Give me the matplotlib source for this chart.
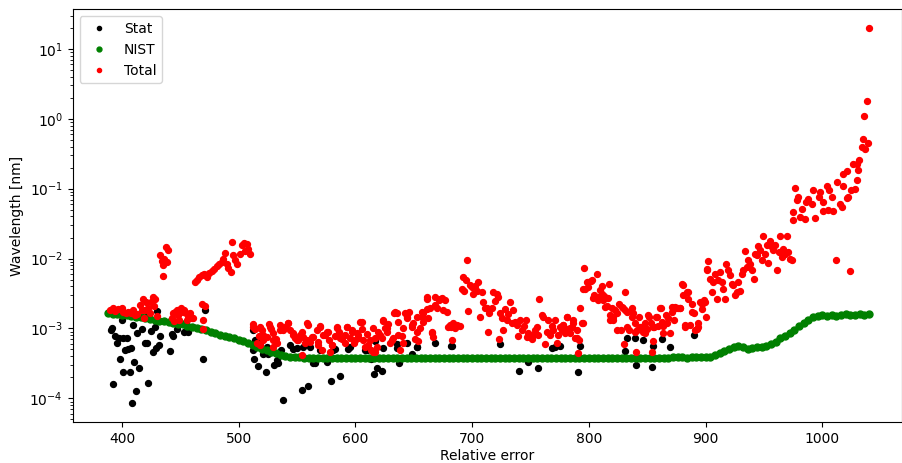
import numpy as np
import matplotlib
matplotlib.use('Agg')
import matplotlib.pyplot as plt

# Stat points (only the ones that show below / beside the red points)
stat_wl = [390.3, 391.8, 394.0, 396.0, 392.6, 399.8, 397.8, 401.2, 404.0, 402.6,
           405.5, 407.5, 398.3, 401.2, 406.9, 409.2, 410.3, 412.0, 408.3, 413.2,
           414.3, 417.5, 419.8, 421.8, 422.6, 424.6, 426.9, 428.3, 429.2, 431.5,
           432.6, 441.2, 442.9, 444.0, 446.9, 453.2, 456.9, 461.2, 469.2, 421.8,
           429.8, 471.2,
           512.0, 514.0, 513.2, 516.9, 518.3, 523.2, 525.5, 530.3, 532.6, 534.0,
           538.3, 554.0, 559.8, 521.1, 536.0, 546.8, 555.4,
           563.4, 565.4, 575.4, 578.8, 586.8, 613.1, 616.0, 618.3, 622.6, 637.7,
           648.3, 652.6, 668.3, 569.7, 582.6, 594.0, 608.3, 616.8, 635.4, 644.0,
           682.0, 724.0, 740.5, 748.2, 756.8, 768.2, 771.1, 775.4, 790.5, 792.5,
           831.1, 832.5, 839.6, 840.5, 846.2, 854.7, 854.5, 862.5, 869.6, 890.2,
           512.5, 524.0, 544.0, 549.7, 561.1, 581.1, 595.4, 609.7, 624.0, 635.4,
           652.5, 682.5]
stat_err = [9.4e-4, 1.03e-3, 7.8e-4, 6.1e-4, 1.58e-4, 1.31e-3, 7.4e-4, 7.2e-4, 7.3e-4, 4.9e-4,
            5.1e-4, 5.3e-4, 3.6e-4, 2.4e-4, 2.4e-4, 1.11e-3, 3.3e-4, 1.26e-4, 8.6e-5, 8.5e-4,
            2.7e-4, 9.7e-4, 6.2e-4, 6.2e-4, 1.64e-4, 9.2e-4, 4.6e-4, 1.05e-3, 5.3e-4, 5.8e-4,
            7.8e-4, 4.8e-4, 8.3e-4, 7.8e-4, 9.7e-4, 9.0e-4, 9.0e-4, 1.05e-3, 3.6e-4, 1.73e-3,
            1.75e-3, 1.82e-3,
            9.4e-4, 6.8e-4, 3.6e-4, 2.9e-4, 6.1e-4, 2.35e-4, 4.3e-4, 3.0e-4, 3.5e-4, 3.2e-4,
            9.4e-5, 1.31e-4, 1.5e-4, 4.3e-4, 4.9e-4, 5.0e-4, 5.5e-4,
            3.2e-4, 3.2e-4, 3.3e-4, 1.79e-4, 2.1e-4, 3.6e-4, 2.2e-4, 2.7e-4, 2.5e-4, 3.2e-4,
            4.3e-4, 5.4e-4, 6.1e-4, 4.9e-4, 5.0e-4, 5.0e-4, 4.9e-4, 6.7e-4, 6.0e-4, 6.1e-4,
            5.6e-4, 6.0e-4, 2.45e-4, 3.3e-4, 2.68e-4, 5.2e-4, 5.5e-4, 5.6e-4, 2.4e-4, 5.6e-4,
            4.8e-4, 7.2e-4, 7.2e-4, 3.0e-4, 6.8e-4, 5.6e-4, 2.83e-4, 6.95e-4, 5.46e-4, 8.0e-4,
            4.9e-4, 5.5e-4, 5.8e-4, 5.2e-4, 5.5e-4, 4.9e-4, 5.5e-4, 4.9e-4, 5.2e-4, 5.2e-4,
            5.5e-4, 5.65e-4]

# NIST uncertainty, sampled every 4 nm (values in units of 1e-4)
nist_wl = np.arange(388, 1041, 4)
nist_err_e4 = [16.4, 16.2, 16.0, 15.7, 15.4, 15.1, 14.8, 14.5, 14.2, 13.8,
               13.3, 12.9, 12.6, 12.3, 12.0, 11.7, 11.4, 11.0, 10.6, 10.2,
               9.8, 9.4, 8.9, 8.5, 8.1, 7.8, 7.5, 7.2, 6.9, 6.6,
               6.2, 5.8, 5.4, 5.1, 4.9, 4.6, 4.4, 4.2, 4.05, 3.95,
               3.9, 3.85, 3.8,
               3.8, 3.78, 3.8, 3.82, 3.8, 3.76, 3.78, 3.8, 3.82, 3.8,
               3.78, 3.76, 3.8, 3.82, 3.8, 3.78, 3.8, 3.82, 3.8, 3.76,
               3.78, 3.8, 3.82, 3.8, 3.78, 3.76, 3.8, 3.82, 3.8, 3.78,
               3.8, 3.82, 3.8, 3.76, 3.78, 3.8, 3.82, 3.8, 3.78, 3.76,
               3.8, 3.82, 3.8, 3.78, 3.8, 3.82, 3.8, 3.76, 3.78, 3.8,
               3.82, 3.8, 3.78, 3.76, 3.8, 3.78, 3.76, 3.74, 3.76, 3.78,
               3.76, 3.74, 3.72, 3.74, 3.76, 3.74, 3.72, 3.74, 3.76, 3.74,
               3.72, 3.74, 3.76, 3.8, 3.82, 3.8, 3.78, 3.8, 3.84, 3.86,
               3.84, 3.82, 3.84, 3.86, 3.88, 3.9,
               3.95, 4.2, 4.5, 4.8, 5.1, 5.35, 5.7, 5.4, 5.0, 5.2,
               5.4, 5.5, 5.7, 6.0, 6.5, 7.2, 7.8, 8.6, 9.6, 10.7,
               12.0, 13.3, 14.5, 15.3, 15.4, 15.2, 15.5, 15.3, 15.6, 15.9,
               15.4, 15.6, 15.9, 15.5, 16.0]
nist_err = np.array(nist_err_e4) * 1e-4

# Total points
total_wl = [389.8, 392.0, 394.0, 396.9, 399.8, 401.2, 403.5, 405.5, 407.5, 409.8,
            411.2, 413.2, 415.5, 417.8, 416.9, 419.8, 420.6, 422.6, 424.6, 426.3,
            428.3, 427.5, 429.8, 424.0, 418.9,
            432.6, 434.0, 435.5, 437.8, 439.8, 438.9, 434.9, 436.0,
            442.6, 444.0, 445.5, 446.9, 448.3, 450.3, 452.0, 453.2, 454.9, 456.9,
            458.3, 459.8, 461.2, 444.9, 449.2, 455.5,
            468.3, 471.2, 469.8, 469.2,
            462.6, 464.6, 466.3, 468.3, 470.3, 472.6, 474.9, 476.9, 478.9, 481.2,
            483.5, 485.5, 486.9, 488.3, 489.7, 491.2, 493.2, 494.9, 496.9, 498.3,
            494.0, 502.6, 504.6, 506.9, 508.3, 509.7, 505.5, 501.2,
            512.0, 514.0, 518.3, 519.7, 517.7, 521.2, 524.0, 526.3, 527.5, 529.7,
            532.0, 535.5, 537.7, 539.7, 542.6, 544.0, 546.3, 548.3, 550.3, 552.6,
            554.9, 556.9, 558.9, 559.8, 529.7, 518.3,
            562.6, 566.8, 568.3, 569.7, 571.1, 574.0, 576.0, 577.7, 579.7, 582.6,
            584.6, 586.3, 588.3, 591.1, 592.6, 595.4, 596.8, 598.8, 601.1, 602.6,
            604.0, 605.4, 606.8, 609.7, 611.1, 613.1, 615.4, 616.8, 618.3, 619.7,
            622.6, 624.0, 625.4, 626.8, 628.3, 629.7, 632.0, 633.1, 635.4, 636.8,
            638.3, 639.7, 641.1, 642.6, 644.0, 646.3, 648.3, 649.7, 651.1, 652.6,
            654.0, 655.4, 656.8, 658.3, 661.1, 662.6, 664.0, 665.4, 666.8, 668.3,
            669.7, 672.0, 674.0, 675.4, 678.3, 679.7, 661.1, 658.3,
            682.0, 683.4, 685.4, 687.4, 689.7, 691.1, 692.0, 693.1, 694.8, 696.0,
            696.8, 698.2, 699.7, 701.1, 702.5, 704.0, 705.4, 706.8, 708.2, 709.7,
            711.1, 712.5, 714.0, 714.8, 716.8, 718.2, 719.7, 721.1, 722.5, 723.4,
            724.0, 725.4, 726.8, 728.2, 729.7, 731.1, 732.5, 734.0, 735.4, 736.8,
            738.2, 739.7, 741.1, 742.5, 744.5, 746.0, 746.8, 748.2, 749.7, 751.1,
            752.5, 754.0, 755.4, 756.5, 757.7, 759.7, 761.1, 762.5, 764.0, 765.4,
            766.8, 768.2, 769.7, 771.1, 772.5, 774.0, 775.4, 776.8, 778.2, 779.7,
            781.1, 782.5, 784.0, 785.4, 786.8, 788.2, 789.7, 791.1, 792.0, 792.5,
            794.0, 794.8, 796.2, 798.2, 799.7, 801.7, 803.4, 804.8, 806.8, 808.2,
            809.7, 811.1, 811.9, 813.1, 815.4, 816.8, 817.7, 818.2, 819.7, 821.1,
            822.5, 824.5, 826.2, 827.4, 829.1, 831.1, 832.5, 834.0,
            836.7, 838.2, 839.6, 840.5, 841.6, 843.3, 844.5, 846.2, 848.2, 849.6,
            851.9, 853.0, 854.7, 855.9, 857.6, 859.6, 861.6, 862.5, 863.9, 866.2,
            868.2, 869.6, 871.0, 873.0, 874.7, 876.7, 878.2, 879.6, 880.5, 882.5,
            883.9, 885.3, 886.7, 888.2, 890.2, 892.5, 893.9, 895.3, 896.7, 898.7,
            900.5, 901.0, 902.5, 903.9, 905.3, 906.7, 908.2, 909.6, 911.0, 912.5,
            913.9, 915.3, 916.7, 917.6, 919.6, 921.0, 922.5, 923.9, 925.3, 926.7,
            928.2, 929.6, 931.0, 932.5, 933.9, 935.3, 936.7, 938.2, 939.6, 941.6,
            942.5, 943.9, 945.3, 946.7, 948.2, 949.6, 951.0, 952.5, 953.9, 955.3,
            956.7, 958.2, 959.6, 961.0, 962.5, 963.9, 965.3, 966.7, 968.2, 969.6,
            971.0, 972.5, 973.9, 1011.9, 1023.9, 853.9, 830.2,
            1039.8, 1038.7, 1035.8, 1035.2, 1039.5, 1033.8, 1036.7, 1031.8, 1030.1, 1026.7,
            1030.9, 1021.0, 1017.5, 1030.1, 1012.4, 1018.1, 1003.8, 1028.1, 1024.4, 1006.1,
            998.1, 992.4, 976.7, 979.5, 988.1, 997.5, 1008.1, 1021.0, 978.1, 986.1,
            991.0, 1001.0, 1015.2, 1016.7, 982.4, 975.2, 1001.0, 1005.2, 1009.5, 980.9,
            985.2, 993.8, 975.2, 1022.4,
            512.5, 518.2, 521.1, 526.8, 529.7, 533.1, 538.2, 542.5, 546.8, 551.1,
            554.0, 558.2, 561.1, 564.0, 569.7, 572.5, 576.8, 579.7, 584.0, 586.8,
            591.1, 592.5, 596.8, 599.7, 602.5, 605.4, 608.2, 612.5, 616.8, 621.1,
            624.0, 626.8, 631.1, 633.9, 636.8, 641.1, 644.0, 648.2, 652.5, 656.8,
            661.1, 665.4, 668.2, 672.5, 676.8, 681.1, 682.5, 515.4, 535.4, 568.2,
            615.4, 578.2, 554.0,
            778.2, 781.0, 783.9, 786.7, 789.6, 795.3, 796.7, 799.6, 802.4, 805.3,
            808.2, 811.0, 813.9, 818.2, 821.0, 823.9, 828.2, 831.0, 832.4, 836.7,
            839.6, 843.9, 848.2, 851.0, 855.3, 858.2, 861.0, 863.9, 866.7, 871.0,
            873.9, 878.2, 880.4, 882.4, 885.3, 888.2, 891.0, 893.9, 896.7, 899.6,
            901.0]
total_err = [1.82e-3, 1.93e-3, 1.77e-3, 1.87e-3, 1.99e-3, 1.73e-3, 1.64e-3, 1.73e-3, 1.67e-3, 1.82e-3,
             1.55e-3, 1.6e-3, 2.15e-3, 2.68e-3, 1.82e-3, 1.82e-3, 2.4e-3, 1.99e-3, 2.4e-3, 2.83e-3,
             2.68e-3, 2.08e-3, 1.5e-3, 1.64e-3, 1.43e-3,
             1.11e-2, 9.2e-3, 8.0e-3, 1.47e-2, 1.34e-2, 8.9e-3, 5.6e-3, 1.0e-2,
             1.39e-3, 1.64e-3, 1.73e-3, 1.82e-3, 1.55e-3, 1.93e-3, 1.73e-3, 1.82e-3, 1.64e-3, 1.5e-3,
             1.67e-3, 1.43e-3, 1.39e-3, 1.28e-3, 1.34e-3, 1.31e-3,
             2.22e-3, 2.08e-3, 1.34e-3, 9.7e-4,
             4.6e-3, 5.0e-3, 5.5e-3, 5.8e-3, 6.1e-3, 5.5e-3, 6.2e-3, 6.7e-3, 7.2e-3, 7.8e-3,
             8.5e-3, 8.9e-3, 9.7e-3, 1.2e-2, 8.5e-3, 7.4e-3, 6.4e-3, 1.11e-2, 9.4e-3, 8.3e-3,
             1.73e-2, 1.55e-2, 1.67e-2, 1.6e-2, 1.39e-2, 1.18e-2, 1.29e-2, 1.18e-2,
             1.14e-3, 9.98e-4, 1.05e-3, 9.4e-4, 7.8e-4, 6.8e-4, 7.6e-4, 1.14e-3, 9.98e-4, 8.5e-4,
             6.95e-4, 9.4e-4, 9.98e-4, 1.05e-3, 1.18e-3, 9.4e-4, 8.5e-4, 7.4e-4, 6.8e-4, 8.0e-4,
             7.6e-4, 6.1e-4, 6.8e-4, 1.11e-3, 5.5e-4, 5.8e-4,
             7.6e-4, 9.5e-4, 6.5e-4, 1.08e-3, 4.9e-4, 8.0e-4, 9.0e-4, 6.8e-4, 5.8e-4, 7.8e-4,
             1.03e-3, 9.0e-4, 7.0e-4, 8.0e-4, 1.06e-3, 7.4e-4, 9.5e-4, 6.1e-4, 8.5e-4, 7.4e-4,
             1.24e-3, 9.7e-4, 6.8e-4, 8.3e-4, 5.8e-4, 4.9e-4, 4.6e-4, 7.4e-4, 5.5e-4, 9.0e-4,
             7.2e-4, 1.29e-3, 1.03e-3, 9.0e-4, 1.15e-3, 6.1e-4, 7.4e-4, 1.64e-3, 1.67e-3, 1.24e-3,
             4.9e-4, 7.8e-4, 1.03e-3, 1.67e-3, 1.47e-3, 1.73e-3, 1.06e-3, 1.2e-3, 7.0e-4, 9.0e-4,
             6.7e-4, 1.0e-3, 1.47e-3, 1.64e-3, 1.87e-3, 1.39e-3, 1.93e-3, 9.0e-4, 7.6e-4, 2.83e-3,
             1.93e-3, 2.54e-3, 2.69e-3, 1.83e-3, 1.73e-3, 1.06e-3, 2.83e-3, 1.24e-3,
             1.05e-3, 1.18e-3, 1.03e-3, 1.11e-3, 1.08e-3, 3.72e-3, 5.46e-3, 3.44e-3, 4.9e-3, 9.5e-3,
             1.79e-3, 4.15e-3, 3.93e-3, 3.09e-3, 4.02e-3, 3.44e-3, 4.63e-3, 1.47e-3, 3.33e-3, 2.4e-3,
             1.93e-3, 1.99e-3, 8.95e-4, 1.64e-3, 1.99e-3, 3.33e-3, 2.48e-3, 3.09e-3, 2.83e-3, 6.95e-4,
             1.64e-3, 1.39e-3, 9.46e-4, 1.87e-3, 1.31e-3, 1.6e-3, 2.4e-3, 1.18e-3, 1.82e-3, 1.24e-3,
             1.11e-3, 7.76e-4, 1.31e-3, 9.66e-4, 1.08e-3, 1.34e-3, 7.43e-4, 8.47e-4, 7.6e-4, 6.95e-4,
             8.0e-4, 9.46e-4, 1.05e-3, 8.0e-4, 2.65e-3, 1.55e-3, 1.47e-3, 5.97e-4, 8.95e-4, 1.31e-3,
             8.0e-4, 1.08e-3, 9.46e-4, 1.31e-3, 6.1e-4, 8.0e-4, 1.05e-3, 9.46e-4, 1.11e-3, 8.47e-4,
             1.47e-3, 9.98e-4, 8.47e-4, 1.05e-3, 1.31e-3, 7.2e-4, 9.66e-4, 4.49e-4, 6.8e-4, 1.93e-3,
             1.18e-3, 3.72e-3, 7.35e-3, 4.63e-3, 3.93e-3, 4.79e-3, 2.77e-3, 2.99e-3, 6.1e-3, 2.83e-3,
             3.52e-3, 4.02e-3, 2.54e-3, 2.89e-3, 2.08e-3, 2.77e-3, 4.39e-3, 1.31e-3, 1.93e-3, 1.47e-3,
             1.82e-3, 1.64e-3, 2.27e-3, 9.46e-4, 1.99e-3, 3.33e-3, 1.73e-3, 9.46e-4,
             1.93e-3, 1.64e-3, 1.18e-3, 4.64e-4, 9.46e-4, 1.47e-3, 1.05e-3, 8.95e-4, 1.18e-3, 9.98e-4,
             1.47e-3, 1.18e-3, 6.65e-4, 1.05e-3, 1.47e-3, 1.08e-3, 1.93e-3, 1.24e-3, 1.08e-3, 1.55e-3,
             1.39e-3, 8.47e-4, 2.04e-3, 1.31e-3, 1.93e-3, 1.99e-3, 1.99e-3, 4.3e-3, 2.99e-3, 1.05e-3,
             3.33e-3, 2.68e-3, 1.11e-3, 2.27e-3, 1.64e-3, 9.98e-4, 1.05e-3, 2.4e-3, 1.87e-3, 2.54e-3,
             1.47e-3, 6.8e-3, 9.25e-3, 5.18e-3, 3.33e-3, 4.63e-3, 5.97e-3, 2.68e-3, 5.0e-3, 6.44e-3,
             4.63e-3, 3.72e-3, 2.6e-3, 8.28e-3, 6.8e-3, 5.77e-3, 4.39e-3, 4.15e-3, 2.99e-3, 3.33e-3,
             4.63e-3, 3.44e-3, 6.1e-3, 6.8e-3, 1.29e-2, 7.59e-3, 9.66e-3, 8.48e-3, 6.8e-3, 5.18e-3,
             1.18e-2, 1.11e-2, 1.5e-2, 1.31e-2, 9.46e-3, 2.08e-2, 1.18e-2, 1.55e-2, 8.65e-3, 1.79e-2,
             1.47e-2, 1.31e-2, 1.55e-2, 6.95e-3, 1.24e-2, 2.08e-2, 1.05e-2, 1.39e-2, 1.18e-2, 2.08e-2,
             1.24e-2, 9.98e-3, 9.46e-3, 9.46e-3, 6.65e-3, 4.64e-4, 6.0e-4,
             19.7, 1.79, 1.10, 0.518, 0.449, 0.394, 0.373, 0.259, 0.228, 0.228,
             0.187, 0.179, 0.164, 0.131, 0.124, 0.111, 0.111, 0.1, 0.0946, 0.0946,
             0.0895, 0.0946, 0.103, 0.076, 0.072, 0.076, 0.076, 0.0743, 0.068, 0.0644,
             0.061, 0.0644, 0.0597, 0.0547, 0.0518, 0.0464, 0.0479, 0.0501, 0.0479, 0.0394,
             0.0373, 0.0385, 0.0352, 0.076,
             1.06e-3, 1.0e-3, 8.0e-4, 1.06e-3, 6.8e-4, 6.1e-4, 9.5e-4, 1.18e-3, 8.0e-4, 6.8e-4,
             9.0e-4, 1.18e-3, 6.5e-4, 7.6e-4, 1.06e-3, 8.0e-4, 9.0e-4, 5.8e-4, 1.06e-3, 7.2e-4,
             6.1e-4, 1.06e-3, 9.0e-4, 6.8e-4, 8.0e-4, 1.24e-3, 5.5e-4, 6.8e-4, 4.6e-4, 8.0e-4,
             1.32e-3, 1.0e-3, 6.8e-4, 1.73e-3, 8.0e-4, 6.1e-4, 1.39e-3, 1.12e-3, 1.47e-3, 1.73e-3,
             2.68e-3, 8.5e-4, 2.15e-3, 2.68e-3, 2.54e-3, 1.12e-3, 6.8e-4, 6.1e-4, 1.12e-3, 5.8e-4,
             1.0e-3, 4.6e-4, 4.2e-4,
             1.12e-3, 1.47e-3, 1.0e-3, 1.18e-3, 7.2e-4, 1.18e-3, 3.72e-3, 4.63e-3, 4.9e-3, 2.83e-3,
             2.54e-3, 3.16e-3, 2.04e-3, 1.55e-3, 1.32e-3, 9.5e-4, 2.04e-3, 1.83e-3, 1.06e-3, 1.47e-3,
             9.0e-4, 1.06e-3, 8.5e-4, 1.55e-3, 1.06e-3, 1.47e-3, 1.93e-3, 8.5e-4, 1.18e-3, 1.73e-3,
             2.04e-3, 1.93e-3, 4.25e-3, 1.12e-3, 3.34e-3, 1.73e-3, 9.5e-4, 1.18e-3, 2.27e-3, 2.4e-3,
             7.2e-3]

fig = plt.figure(figsize=(9.02, 4.63), dpi=100)
ax = fig.add_axes([0.0806, 0.0879, 0.9190, 0.8920])

ax.plot(stat_wl, stat_err, '.', color='black', ms=8.5, label='Stat')
ax.plot(nist_wl, nist_err, '.', color='green', ms=10, label='NIST')
ax.plot(total_wl, total_err, '.', color='red', ms=8.5, label='Total')

ax.set_yscale('log')
ax.set_xlim(357.8, 1068)
ax.set_ylim(10 ** -4.343, 10 ** 1.567)
ax.set_xlabel('Relative error', labelpad=2)
ax.set_ylabel('Wavelength [nm]')
ax.legend(loc='upper left', markerscale=0.7)

fig.savefig('out.png', dpi=100)
